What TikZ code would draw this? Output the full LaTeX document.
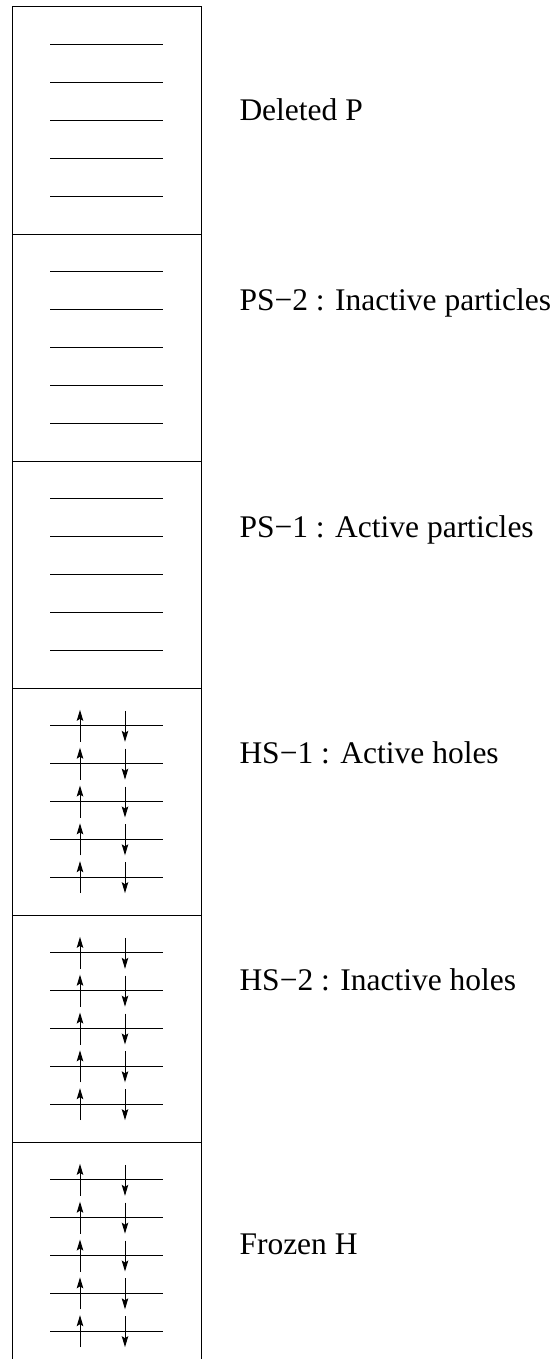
\documentclass[tikz,border=0pt]{standalone}
\usepackage{fontspec}
\setmainfont{Liberation Serif}
\usetikzlibrary{arrows.meta}

\begin{document}
\begin{tikzpicture}[x=1pt, y=-1pt, line width=1pt,
    spin/.style={-{Stealth[length=11pt, width=6.5pt, inset=2pt]}},
    spacelabel/.style={anchor=base west, inner sep=0pt, font=\fontsize{31.5}{36}\selectfont}]
\useasboundingbox (0,0) rectangle (557,1359);
% Outer frame, open at the bottom
\draw (12,1359) -- (12,7) -- (201,7) -- (201,1359);
% Borders between the spaces
\foreach \s in {1,...,5} {
    \draw (12,{7+227*\s}) -- (201,{7+227*\s});
}
% Five levels in every space
\foreach \s in {0,...,5} {
    \foreach \k in {1,...,5} {
        \draw (50,{7+227*\s+227*\k/6}) -- (163,{7+227*\s+227*\k/6});
    }
}
% Paired spins on the hole levels
\foreach \s in {3,4,5} {
    \foreach \k in {1,...,5} {
        \draw[spin] (80,{7+227*\s+227*\k/6+16}) -- ++(0,-32);
        \draw[spin] (125,{7+227*\s+227*\k/6-15}) -- ++(0,31);
    }
}

\node[spacelabel] (delp) at (239,121) {Deleted P};
\node[spacelabel] (ps2) at (239,310) {PS−2 : Inactive particles};
\node[spacelabel] (ps1) at (239,537) {PS−1 : Active particles};
\node[spacelabel] (hs1) at (239,763) {HS−1 : Active holes};
\node[spacelabel] (hs2) at (239,990) {HS−2 : Inactive holes};
\node[spacelabel] (frozh) at (239,1254) {Frozen H};
\end{tikzpicture}
\end{document}
